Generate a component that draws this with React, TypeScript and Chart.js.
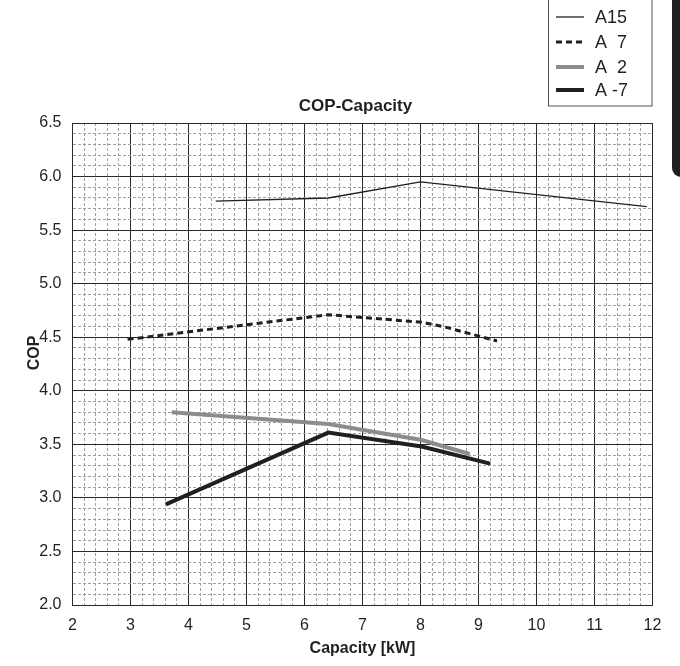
import React, { useEffect, useRef } from "react";
import { Chart, registerables } from "chart.js";

Chart.register(...registerables);

const chartTitle = "COP-Capacity";
const xAxisTitle = "Capacity [kW]";
const yAxisTitle = "COP";
const seriesNames = ["A15", "A  7", "A  2", "A -7"];

const a15X = [4.47, 6.41, 8.0, 11.9];
const a15Y = [5.77, 5.8, 5.95, 5.72];
const a7X = [2.95, 6.41, 8.02, 8.39, 9.32];
const a7Y = [4.48, 4.71, 4.64, 4.6, 4.465];
const a2X = [3.71, 6.41, 8.02, 8.85];
const a2Y = [3.8, 3.69, 3.54, 3.41];
const am7X = [3.61, 6.41, 8.02, 9.2];
const am7Y = [2.94, 3.61, 3.48, 3.32];

const xMin = 2;
const xMax = 12;
const yMin = 2;
const yMax = 6.5;

const FONT = "'Liberation Sans', Arial, Helvetica, sans-serif";
const INK = "#231f20";

const toPoints = (xs: number[], ys: number[]) => xs.map((x, i) => ({ x, y: ys[i] }));

const isXMajor = (v: number) => Math.abs(v - Math.round(v)) < 1e-6;
const isYMajor = (v: number) => Math.abs(v * 2 - Math.round(v * 2)) < 1e-6;

const textPlugin = {
  id: "textDecor",
  afterDraw(chart: any) {
    const ctx = chart.ctx as CanvasRenderingContext2D;
    const ds = chart.data.datasets;
    const area = chart.chartArea;
    ctx.save();
    // chart title
    ctx.fillStyle = INK;
    ctx.font = `bold 17px ${FONT}`;
    ctx.textAlign = "center";
    ctx.textBaseline = "middle";
    ctx.fillText(chartTitle, (area.left + area.right) / 2 - 7, area.top - 17);
    // y axis title
    ctx.save();
    ctx.translate(35, (area.top + area.bottom) / 2 - 11);
    ctx.rotate(-Math.PI / 2);
    ctx.font = `bold 16px ${FONT}`;
    ctx.fillText(yAxisTitle, 0, 0);
    ctx.restore();
    // legend box
    ctx.strokeStyle = "#555";
    ctx.lineWidth = 1;
    ctx.strokeRect(548.5, -0.5, 103.5, 106.5);
    const rows = [17, 42, 67, 90];
    ds.forEach((d: any, i: number) => {
      const y = rows[i];
      ctx.beginPath();
      ctx.strokeStyle = d.borderColor;
      ctx.lineWidth = d.borderWidth;
      ctx.setLineDash(d.borderDash || []);
      ctx.moveTo(556, y);
      ctx.lineTo(584, y);
      ctx.stroke();
      ctx.setLineDash([]);
      ctx.fillStyle = INK;
      ctx.font = `18px ${FONT}`;
      ctx.textBaseline = "middle";
      ctx.textAlign = "left";
      ctx.fillText(d.label, 595, y + 1);
    });
    ctx.restore();
  },
};

export default function App() {
  const canvasRef = useRef<HTMLCanvasElement | null>(null);

  useEffect(() => {
    if (!canvasRef.current) return;
    const chart = new Chart(canvasRef.current, {
      type: "line",
      data: {
        datasets: [
          {
            label: seriesNames[0],
            data: toPoints(a15X, a15Y),
            borderColor: INK,
            borderWidth: 1.3,
            pointRadius: 0,
            tension: 0,
          },
          {
            label: seriesNames[1],
            data: toPoints(a7X, a7Y),
            borderColor: INK,
            borderWidth: 3,
            borderDash: [6, 4],
            pointRadius: 0,
            tension: 0,
          },
          {
            label: seriesNames[2],
            data: toPoints(a2X, a2Y),
            borderColor: "#8c8c8c",
            borderWidth: 4,
            pointRadius: 0,
            tension: 0,
          },
          {
            label: seriesNames[3],
            data: toPoints(am7X, am7Y),
            borderColor: INK,
            borderWidth: 4,
            pointRadius: 0,
            tension: 0,
          },
        ],
      },
      options: {
        responsive: false,
        animation: false,
        layout: { padding: { top: 123, right: 27.5, left: 0, bottom: 0 } },
        plugins: {
          legend: { display: false },
          tooltip: { enabled: false },
          title: { display: false },
        },
        scales: {
          x: {
            type: "linear",
            min: xMin,
            max: xMax,
            afterFit: (s: any) => {
              s.height = 61;
            },
            ticks: {
              stepSize: 0.2,
              autoSkip: false,
              maxRotation: 0,
              padding: 11,
              color: INK,
              font: { family: FONT, size: 16 },
              callback: (v: any) => (isXMajor(Number(v)) ? String(Math.round(Number(v))) : ""),
            },
            grid: {
              drawTicks: false,
              lineWidth: 1,
              color: (c: any) => (c.tick && isXMajor(c.tick.value) ? "#2a2a2a" : "#a0a0a0"),
            },
            border: {
              display: true,
              color: "#2a2a2a",
              width: 1,
              dash: (c: any) => (c.tick && !isXMajor(c.tick.value) ? [3, 2] : []),
            },
            title: {
              display: true,
              text: xAxisTitle,
              color: INK,
              font: { family: FONT, size: 16, weight: "bold" },
              padding: { top: 8, bottom: 8 },
            },
          },
          y: {
            type: "linear",
            min: yMin,
            max: yMax,
            afterFit: (s: any) => {
              s.width = 72.5;
            },
            ticks: {
              stepSize: 0.1,
              autoSkip: false,
              padding: 11,
              color: INK,
              font: { family: FONT, size: 16 },
              callback: (v: any) => (isYMajor(Number(v)) ? Number(v).toFixed(1) : ""),
            },
            grid: {
              drawTicks: false,
              lineWidth: 1,
              color: (c: any) => (c.tick && isYMajor(c.tick.value) ? "#2a2a2a" : "#a0a0a0"),
            },
            border: {
              display: true,
              color: "#2a2a2a",
              width: 1,
              dash: (c: any) => (c.tick && !isYMajor(c.tick.value) ? [3, 2] : []),
            },
            title: { display: false },
          },
        },
      },
      plugins: [textPlugin],
    } as any);
    return () => chart.destroy();
  }, []);

  return (
    <div style={{ position: "absolute", left: 0, top: 0, width: 680, height: 666, background: "#fff", overflow: "hidden" }}>
      <canvas ref={canvasRef} width={680} height={666} style={{ position: "absolute", left: 0, top: 0 }} />
      <div
        style={{
          position: "absolute",
          left: 672,
          top: 0,
          width: 16,
          height: 177,
          background: INK,
          borderBottomLeftRadius: 9,
        }}
      />
    </div>
  );
}
